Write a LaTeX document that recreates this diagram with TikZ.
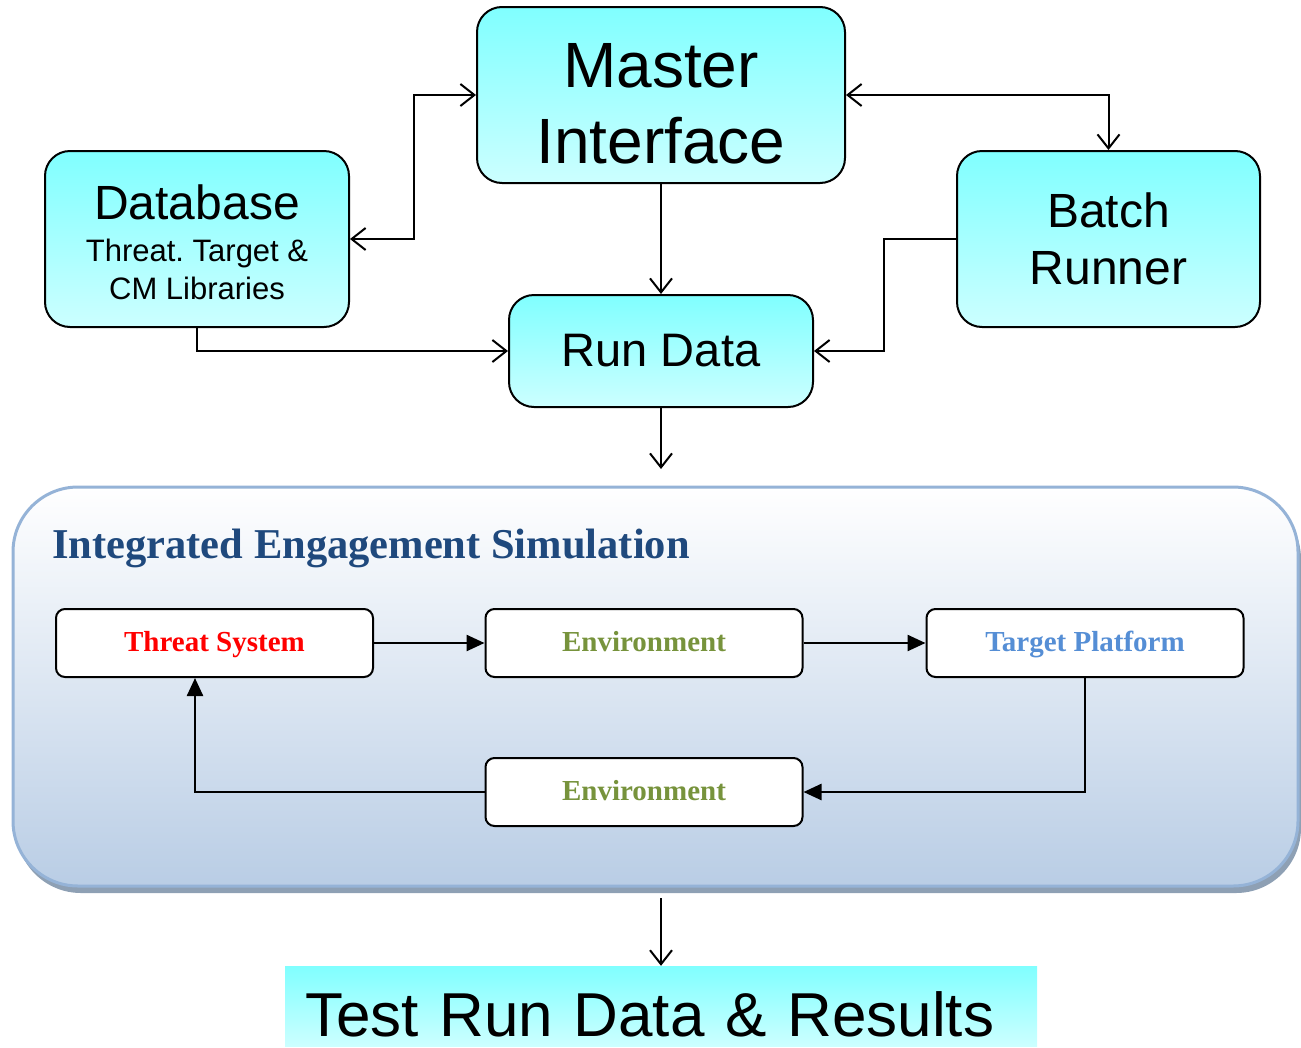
\documentclass[tikz,border=0pt]{standalone}
\usepackage{fontspec}
\setmainfont{Liberation Serif}
\setsansfont{Liberation Sans}
\usetikzlibrary{arrows.meta,shadows}

\definecolor{boxtop}{HTML}{80FFFF}
\definecolor{boxbot}{HTML}{CCFFFF}
\definecolor{simbot}{HTML}{B9CDE5}
\definecolor{simedge}{HTML}{95B3D7}
\definecolor{simshadow}{HTML}{8EA0B4}
\definecolor{titleblue}{HTML}{1F497D}
\definecolor{envgreen}{HTML}{77933C}
\definecolor{targetblue}{HTML}{558ED5}

\begin{document}
\frenchspacing
\begin{tikzpicture}[x=1pt, y=-1pt,
        block/.style={draw, line width=2pt, rounded corners=25pt, top color=boxtop, bottom color=boxbot, align=center, inner sep=0pt},
        stage/.style={draw, line width=2pt, rounded corners=9pt, fill=white, minimum width=317pt, minimum height=68pt, inner sep=0pt, text height=22pt, text depth=6pt, font=\fontsize{29}{34}\selectfont\bfseries},
        simbox/.style={draw=simedge, line width=3pt, rounded corners=65pt, top color=white, bottom color=simbot, drop shadow={shadow xshift=3pt, shadow yshift=-7pt, fill=simshadow, opacity=1}},
        result/.style={top color=boxtop, bottom color=boxbot, text width=712pt, inner xsep=20pt, inner ysep=8pt, align=left, text height=62pt, text depth=2pt, font=\sffamily\fontsize{62}{70}\selectfont},
        link/.style={line width=2pt, -{Straight Barb[length=14pt,width=22pt,line width=2pt]}},
        duplex/.style={line width=2pt, {Straight Barb[length=14pt,width=22pt,line width=2pt]}-{Straight Barb[length=14pt,width=22pt,line width=2pt]}},
        flow/.style={line width=2.5pt, -{Triangle[length=18pt,width=16pt]}}
    ]
    \useasboundingbox (0,0) rectangle (1301,1047);

    % Top blocks
    \node[block, minimum width=368pt, minimum height=176pt, font=\sffamily\fontsize{64}{76}\selectfont] (master) at (661,95) {\rule{0pt}{62pt}Master\\Interface};
    \node[block, minimum width=304pt, minimum height=176pt, font=\sffamily\fontsize{48}{48}\selectfont] (database) at (197,239) {\rule{0pt}{41pt}Database\\[-6pt]{\fontsize{31}{38}\selectfont Threat. Target \&}\\[-10pt]{\fontsize{31}{38}\selectfont CM Libraries}};
    \node[block, minimum width=303pt, minimum height=176pt, font=\sffamily\fontsize{48}{57}\selectfont] (batch) at (1108.5,239) {Batch\\Runner};
    \node[block, minimum width=304pt, minimum height=112pt, font=\sffamily\fontsize{47}{50}\selectfont] (rundata) at (661,351) {Run Data};

    \draw[duplex] (database.east) -- ++(64,0) |- (master.west);
    \draw[duplex] (master.east) -| (batch.north);
    \draw[link] (master.south) -- (rundata.north);
    \draw[link] (database.south) |- (rundata.west);
    \draw[link] (batch.west) -- ++(-72,0) |- (rundata.east);

    % Simulation
    \node[simbox, minimum width=1285pt, minimum height=399pt] (sim) at (655.5,686.5) {};
    \node[anchor=base west, inner sep=0pt, text=titleblue, font=\fontsize{42.5}{50}\selectfont\bfseries] (simtitle) at (52,558) {Integrated Engagement Simulation};

    \node[stage, text=red] (threat) at (214.5,643) {Threat System};
    \node[stage, text=envgreen] (envout) at (644,643) {Environment};
    \node[stage, text=targetblue] (target) at (1085,643) {Target Platform};
    \node[stage, text=envgreen] (envback) at (644,792) {Environment};

    \draw[flow] (threat) -- (envout);
    \draw[flow] (envout) -- (target);
    \draw[flow] (target.south) |- (envback.east);
    \draw[flow] (envback.west) -| ([xshift=-19.5pt]threat.south);

    % Results
    \coordinate (simin) at (661,469);
    \coordinate (simout) at (661,898);
    \node[result] (results) at (661,1006) {Test Run Data \& Results};

    \draw[link] (rundata.south) -- (simin);
    \draw[link] (simout) -- (results.north);
\end{tikzpicture}
\end{document}
